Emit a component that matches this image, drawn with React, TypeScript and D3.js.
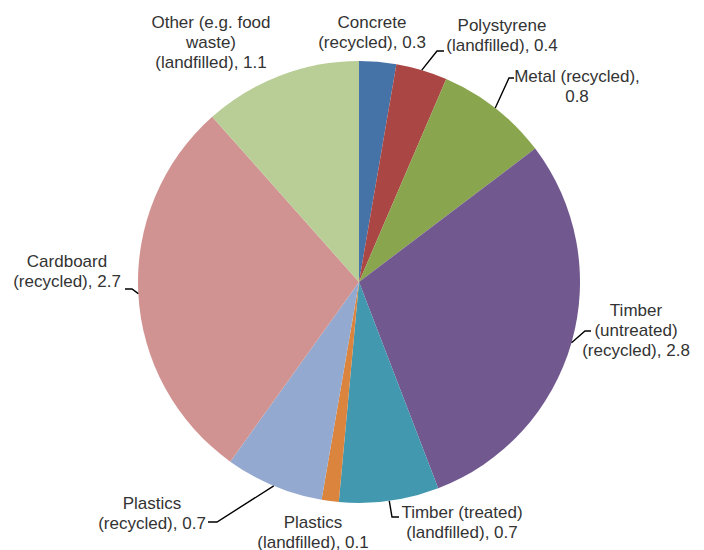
import React from "react";
import * as d3 from "d3";

const categories = [
  "Concrete (recycled)",
  "Polystyrene (landfilled)",
  "Metal (recycled)",
  "Timber (untreated) (recycled)",
  "Timber (treated) (landfilled)",
  "Plastics (landfilled)",
  "Plastics (recycled)",
  "Cardboard (recycled)",
  "Other (e.g. food waste) (landfilled)",
];
const values = [0.26, 0.36, 0.79, 2.83, 0.7, 0.12, 0.69, 2.74, 1.11];
const labelLines = [
  ["Concrete", "(recycled), {v}"],
  ["Polystyrene", "(landfilled), {v}"],
  ["Metal (recycled),", "{v}"],
  ["Timber", "(untreated)", "(recycled), {v}"],
  ["Timber (treated)", "(landfilled), {v}"],
  ["Plastics", "(landfilled), {v}"],
  ["Plastics", "(recycled), {v}"],
  ["Cardboard", "(recycled), {v}"],
  ["Other (e.g. food", "waste)", "(landfilled), {v}"],
];
const colors = [
  "#4572A7",
  "#AA4643",
  "#89A54E",
  "#71588F",
  "#4198AF",
  "#DB843D",
  "#93A9CF",
  "#D19392",
  "#B9CD96",
];

// layout: label center x, first-line center y, and leader path (elbow, end) if any
const layout: { x: number; y: number; leader: [number, number][] | null }[] = [
  { x: 372, y: 22, leader: null },
  { x: 502, y: 25, leader: [[437, 51], [444, 51]] },
  { x: 577, y: 76, leader: [[509, 78], [514, 78]] },
  { x: 636, y: 310, leader: [[585, 331], [591, 331]] },
  { x: 462, y: 512, leader: [[392, 517], [399, 517]] },
  { x: 313, y: 522, leader: null },
  { x: 152, y: 503, leader: [[217, 522], [208, 522]] },
  { x: 67, y: 261, leader: [[132, 289], [125, 289]] },
  { x: 211, y: 22, leader: null },
];

const W = 704;
const H = 550;
const cx = 359;
const cy = 282;
const R = 221;
const fontSize = 17;
const lineH = 20;

export default function App() {
  const fmt = d3.format(".1f");
  const pie = d3
    .pie<number>()
    .sort(null)
    .value((d) => d)
    .startAngle(0)
    .endAngle(2 * Math.PI);
  const arcs = pie(values);
  const arc = d3.arc<d3.PieArcDatum<number>>().innerRadius(0).outerRadius(R);
  const line = d3.line();

  return (
    <svg
      width={W}
      height={H}
      style={{ position: "absolute", left: 0, top: 0, background: "#fff" }}
      fontFamily="'Liberation Sans', Arial, sans-serif"
    >
      <g transform={`translate(${cx},${cy})`}>
        {arcs.map((a, i) => (
          <path key={categories[i]} d={arc(a) || ""} fill={colors[i]} />
        ))}
      </g>
      {arcs.map((a, i) => {
        const L = layout[i];
        if (!L.leader) return null;
        const mid = (a.startAngle + a.endAngle) / 2;
        const ex = cx + R * Math.sin(mid);
        const ey = cy - R * Math.cos(mid);
        const pts: [number, number][] = [[ex, ey], ...L.leader];
        return (
          <path
            key={"l" + i}
            d={line(pts) || ""}
            fill="none"
            stroke="#000"
            strokeWidth={1.4}
          />
        );
      })}
      {arcs.map((a, i) => {
        const L = layout[i];
        return (
          <text
            key={"t" + i}
            x={L.x}
            textAnchor="middle"
            fontSize={fontSize}
            fill="#333"
          >
            {labelLines[i].map((s, j) => (
              <tspan key={j} x={L.x} y={L.y + j * lineH + 6}>
                {s.replace("{v}", fmt(values[i]))}
              </tspan>
            ))}
          </text>
        );
      })}
    </svg>
  );
}
